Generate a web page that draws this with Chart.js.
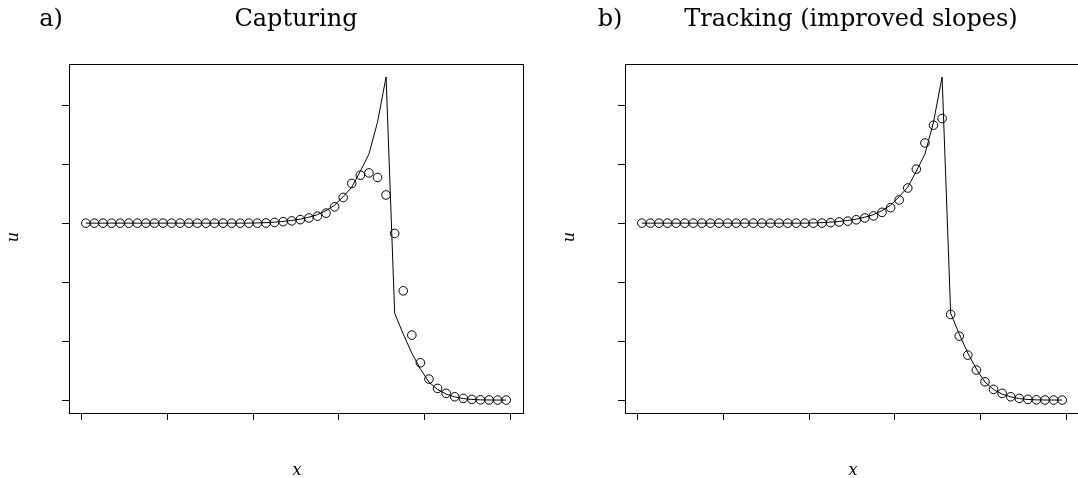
<!DOCTYPE html>
<html>
<head>
<meta charset="utf-8">
<script src="https://cdn.jsdelivr.net/npm/chart.js@4.4.1/dist/chart.umd.min.js"></script>
<style>
  html, body { margin: 0; padding: 0; background: #fff; overflow: hidden; }
  body { width: 1078px; height: 478px; position: relative; font-family: 'DejaVu Serif', serif; color: #000; }
  canvas { position: absolute; top: 0; }
  .lbl { position: absolute; white-space: nowrap; transform: translate(-50%, -50%); line-height: 1; }
  .title { font-size: 24px; }
  .axis { font-size: 16px; font-style: italic; }
  .rot { transform: translate(-50%, -50%) rotate(-90deg); }
</style>
</head>
<body>
<canvas id="capt" width="539" height="478" style="left:0"></canvas>
<canvas id="track" width="539" height="478" style="left:556px"></canvas>

<div class="lbl title" style="left:51px;top:18px">a)</div>
<div class="lbl title" style="left:296px;top:18px">Capturing</div>
<div class="lbl title" style="left:610px;top:18px">b)</div>
<div class="lbl title" style="left:851px;top:18px">Tracking (improved slopes)</div>
<div class="lbl axis rot" style="left:13px;top:237px">u</div>
<div class="lbl axis rot" style="left:569px;top:237px">u</div>
<div class="lbl axis" style="left:297px;top:470px">x</div>
<div class="lbl axis" style="left:853px;top:470px">x</div>

<script>
// grid cell centres (50 cells on [0,1])
const xGrid = [
  0.01, 0.03, 0.05, 0.07, 0.09, 0.11, 0.13, 0.15, 0.17, 0.19,
  0.21, 0.23, 0.25, 0.27, 0.29, 0.31, 0.33, 0.35, 0.37, 0.39,
  0.41, 0.43, 0.45, 0.47, 0.49, 0.51, 0.53, 0.55, 0.57, 0.59,
  0.61, 0.63, 0.65, 0.67, 0.69, 0.71, 0.73, 0.75, 0.77, 0.79,
  0.81, 0.83, 0.85, 0.87, 0.89, 0.91, 0.93, 0.95, 0.97, 0.99,
];

// reference solution (solid line)
const exactU = [
  0.6, 0.6, 0.6, 0.6, 0.6, 0.6, 0.6, 0.6, 0.6, 0.6,
  0.6, 0.6, 0.6, 0.6, 0.6, 0.6, 0.6, 0.6, 0.6, 0.6,
  0.6007, 0.6017, 0.6034, 0.6058, 0.6092, 0.6136, 0.6203, 0.6288, 0.6424, 0.6610,
  0.6898, 0.7220, 0.7763, 0.8340, 0.9424, 1.0959, 0.2949, 0.2237, 0.1593, 0.1051,
  0.0610, 0.0356, 0.0203, 0.0108, 0.0051, 0.0020, 0.0007, 0.0002, 0.0001, 0,
];

// a) shock capturing (circles)
const capturingU = [
  0.6, 0.6, 0.6, 0.6, 0.6, 0.6, 0.6, 0.6, 0.6, 0.6,
  0.6, 0.6, 0.6, 0.6, 0.6, 0.6, 0.6, 0.6, 0.6, 0.6,
  0.6, 0.6005, 0.6024, 0.6051, 0.6078, 0.6119, 0.6176, 0.6237, 0.6339, 0.6553,
  0.6871, 0.7346, 0.7627, 0.7705, 0.7549, 0.6956, 0.5651, 0.3705, 0.2203, 0.1264,
  0.0712, 0.0397, 0.0227, 0.0112, 0.0058, 0.0024, 0.0008, 0.0003, 0.0001, 0,
];

// b) shock tracking, improved slopes (circles)
const trackingU = [
  0.6, 0.6, 0.6, 0.6, 0.6, 0.6, 0.6, 0.6, 0.6, 0.6,
  0.6, 0.6, 0.6, 0.6, 0.6, 0.6, 0.6, 0.6, 0.6, 0.6,
  0.6, 0.6003, 0.6017, 0.6041, 0.6068, 0.6115, 0.6176, 0.6247, 0.6366, 0.6525,
  0.6786, 0.7193, 0.7831, 0.8719, 0.9322, 0.9549, 0.2905, 0.2169, 0.1525, 0.1017,
  0.0620, 0.0363, 0.0227, 0.0112, 0.0058, 0.0024, 0.0008, 0.0003, 0.0001, 0,
];

const xTicks = [0, 0.2, 0.4, 0.6, 0.8, 1.0];
const uTicks = [0, 0.2, 0.4, 0.6, 0.8, 1.0];

// R-style 4% axis extension
function extend(vals) {
  const lo = Math.min(...vals), hi = Math.max(...vals);
  const d = (hi - lo) * 0.04;
  return [lo - d, hi + d];
}
const [xMin, xMax] = extend(xGrid);
const [uMin, uMax] = extend([...exactU, ...capturingU, ...trackingU]);

const frame = {
  id: 'frame',
  afterDraw(chart) {
    const { ctx, chartArea: a } = chart;
    ctx.save();
    ctx.strokeStyle = '#000';
    ctx.lineWidth = 1;
    const l = Math.round(a.left) + 0.5, t = Math.round(a.top) + 0.5;
    ctx.strokeRect(l, t, Math.round(a.right) - Math.round(a.left), Math.round(a.bottom) - Math.round(a.top));
    ctx.restore();
  },
};

function axis(min, max, ticks) {
  return {
    type: 'linear',
    min, max,
    afterBuildTicks: s => { s.ticks = ticks.map(v => ({ value: v })); },
    ticks: { display: false },
    grid: { drawOnChartArea: false, drawTicks: true, tickLength: 7, color: '#000', lineWidth: 1 },
    border: { display: true, color: '#000', width: 1 },
  };
}

function makeChart(id, circles) {
  const pts = ys => xGrid.map((x, i) => ({ x, y: ys[i] }));
  return new Chart(document.getElementById(id), {
    type: 'scatter',
    data: {
      datasets: [
        {
          data: pts(exactU),
          showLine: true,
          borderColor: '#000',
          borderWidth: 1,
          pointRadius: 0,
          tension: 0,
        },
        {
          data: pts(circles),
          showLine: false,
          pointStyle: 'circle',
          pointRadius: 4.3,
          pointBorderWidth: 1,
          pointBorderColor: '#000',
          pointBackgroundColor: 'rgba(0,0,0,0)',
        },
      ],
    },
    options: {
      responsive: false,
      animation: false,
      layout: { padding: { left: 62, right: 16, top: 64, bottom: 58 } },
      plugins: { legend: { display: false }, tooltip: { enabled: false } },
      scales: {
        x: axis(xMin, xMax, xTicks),
        y: axis(uMin, uMax, uTicks),
      },
    },
    plugins: [frame],
  });
}

makeChart('capt', capturingU);
makeChart('track', trackingU);
</script>
</body>
</html>
